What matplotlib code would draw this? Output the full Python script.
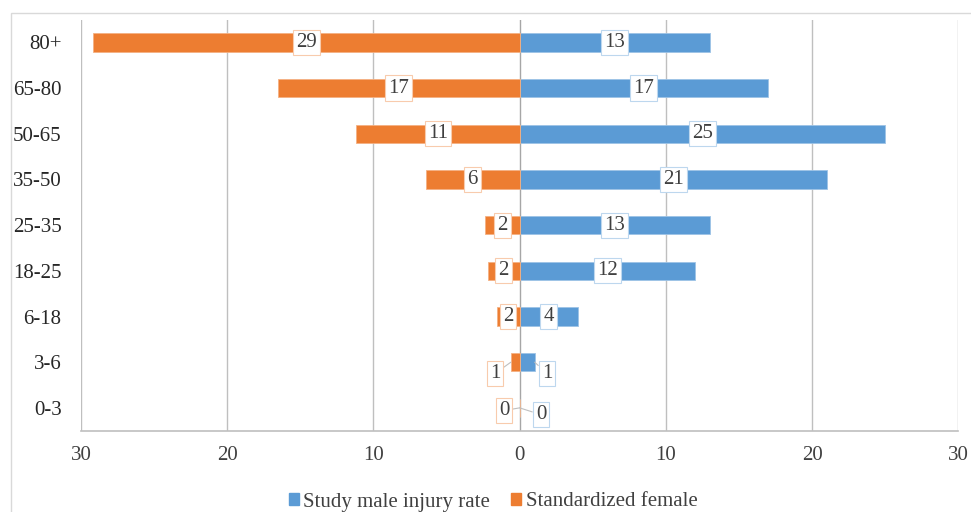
import matplotlib.pyplot as plt
import numpy as np
from matplotlib.patches import Rectangle, Patch

plt.rcParams['font.family'] = ['Liberation Serif', 'DejaVu Serif']

categories = ['0-3', '3-6', '6-18', '18-25', '25-35', '35-50', '50-65', '65-80', '80+']
male_rate = [0, 1.03, 4.0, 12.0, 13.0, 21.0, 25.0, 17.0, 13.0]
female_rate = [0, 0.6, 1.57, 2.17, 2.35, 6.42, 11.2, 16.52, 29.2]
x_ticks = [-30, -20, -10, 0, 10, 20, 30]

blue = '#5B9BD5'
orange = '#ED7D31'
text_col = '#404040'
fs = 15

fig = plt.figure(figsize=(9.71, 5.12), dpi=100)
ax = fig.add_axes([0.0834, 0.1588, 0.9035, 0.8029])

# light frame around the chart area
fig.patches.append(Rectangle((10.7 / 971, -0.1), 1.0, 1.1 - 13.3 / 512,
                             transform=fig.transFigure, fill=False,
                             edgecolor='#D9D9D9', lw=1.0))

y = np.arange(len(categories))
ax.barh(y, male_rate, height=0.4, color=blue, edgecolor='#9DC3E6', lw=0.6, zorder=3)
ax.barh(y, [-v for v in female_rate], height=0.4, color=orange, edgecolor='#F4B183', lw=0.6, zorder=3)

ax.set_xlim(-30, 30)
ax.set_ylim(-0.5, len(categories) - 0.5)
ax.set_xticks(x_ticks)
ax.set_xticklabels([str(abs(t)) for t in x_ticks])
ax.set_yticks(y)
ax.set_yticklabels(categories)
ax.tick_params(axis='x', length=0, pad=11, labelsize=fs, labelcolor=text_col)
ax.tick_params(axis='y', length=0, pad=14, labelsize=fs, labelcolor='#262626')

for t in x_ticks:
    ax.axvline(t, color='#BFBFBF' if t != 0 else '#A6A6A6', lw=1.0, zorder=1)
for s in ['top', 'right', 'left']:
    ax.spines[s].set_visible(False)
ax.spines['bottom'].set_color('#BFBFBF')
ax.spines['bottom'].set_linewidth(1.2)

# value labels: centred in the bar, pushed aside with a leader for tiny bars
outside = {0: ((-1.07, -0.06), (1.46, -0.15)), 1: ((-1.69, -0.25), (1.87, -0.25))}

def label(x_end, yy, val, edge, pos):
    txt = f'{val:.0f}'
    box = dict(boxstyle='square,pad=0.15', fc='white', ec=edge, lw=0.8)
    if pos is None:
        ax.text(x_end / 2, yy, txt, ha='center', va='center', fontsize=fs,
                color=text_col, bbox=box, zorder=5)
    else:
        ax.annotate(txt, xy=(x_end, yy), xytext=(pos[0], yy + pos[1]),
                    ha='center', va='center', fontsize=fs, color=text_col,
                    bbox=box, zorder=5,
                    arrowprops=dict(arrowstyle='-', color='#BFBFBF', lw=0.8,
                                    shrinkA=0, shrinkB=0))

for i in range(len(categories)):
    fpos, mpos = outside.get(i, (None, None))
    label(-female_rate[i], i, female_rate[i], '#F8CBAD', fpos)
    label(male_rate[i], i, male_rate[i], '#BDD7EE', mpos)

handles = [Patch(color=blue), Patch(color=orange)]
fig.legend(handles, ['Study male injury rate', 'Standardized female'],
           loc='center', bbox_to_anchor=(493 / 971, 1 - 502 / 512), ncol=2,
           frameon=False, fontsize=fs, handlelength=0.5, handleheight=0.5,
           handletextpad=0.2, columnspacing=1.0, labelcolor=text_col)

fig.savefig('out.png', dpi=100)
